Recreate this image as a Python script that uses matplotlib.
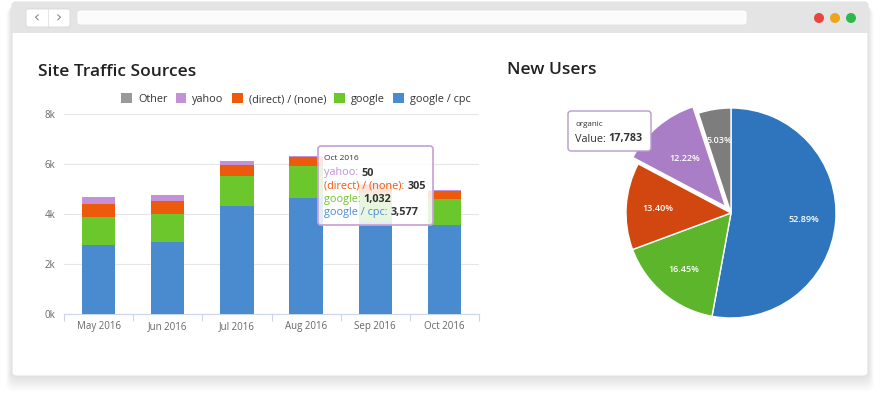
import matplotlib
matplotlib.use("Agg")
import matplotlib.pyplot as plt
from matplotlib.patches import FancyBboxPatch, Circle, Rectangle
import numpy as np

plt.rcParams['font.family'] = ['Open Sans', 'DejaVu Sans']

# ---------------- data ----------------
months = ['May 2016', 'Jun 2016', 'Jul 2016', 'Aug 2016', 'Sep 2016', 'Oct 2016']
google_cpc = [2770, 2900, 4340, 4630, 3680, 3577]
google = [1100, 1110, 1200, 1310, 1160, 1032]
direct_none = [540, 530, 430, 330, 320, 305]
yahoo = [290, 230, 170, 70, 60, 50]
other = [0, 0, 0, 0, 0, 0]
series_names = ['google / cpc', 'google', '(direct) / (none)', 'yahoo', 'Other']
y_ticks = [0, 2000, 4000, 6000, 8000]
y_tick_labels = ['0k', '2k', '4k', '6k', '8k']

tooltip_month = 'Oct 2016'

pie_shares = [52.89, 16.45, 13.40, 12.22, 5.03]
pie_tooltip_name = 'organic'
pie_tooltip_value = '17,783'

bar_colors = ['#4a8bd0', '#6cc72d', '#ee5a0c', '#c490d8', '#999999']
pie_colors = ['#2f75bd', '#5cb52b', '#d2460f', '#aa7ec6', '#7d7d7d']

# ---------------- figure ----------------
W, H = 880, 398
fig = plt.figure(figsize=(W / 100, H / 100), dpi=100)
fig.patch.set_facecolor('white')

bg = fig.add_axes([0, 0, 1, 1], zorder=0)
bg.set_xlim(0, W)
bg.set_ylim(H, 0)
bg.axis('off')

# soft shadow
for i in range(10):
    off = 14 - 1.4 * i
    bg.add_patch(FancyBboxPatch((12 - off * 0.4, 4 + off * 0.2), 856 + off * 0.8, 372 + off * 0.9,
                                boxstyle="round,pad=0,rounding_size=8",
                                fc='#000000', ec='none', alpha=0.012))
# window
bg.add_patch(FancyBboxPatch((12, 2), 856, 374, boxstyle="round,pad=0,rounding_size=4",
                            fc='white', ec='#e2e2e2', lw=0.8))
bg.add_patch(FancyBboxPatch((12, 2), 856, 31, boxstyle="round,pad=0,rounding_size=4",
                            fc='#e4e4e4', ec='none'))
bg.add_patch(Rectangle((12, 20), 856, 13, fc='#e4e4e4', ec='none'))
# nav buttons
bg.add_patch(FancyBboxPatch((26, 9), 44, 18, boxstyle="round,pad=0,rounding_size=2",
                            fc='white', ec='#d8d8d8', lw=0.6))
bg.plot([48, 48], [9, 27], color='#e0e0e0', lw=0.6)
bg.text(37, 18, '‹', ha='center', va='center', fontsize=11, color='#888888', family='DejaVu Sans')
bg.text(59, 18, '›', ha='center', va='center', fontsize=11, color='#888888', family='DejaVu Sans')
# address bar
bg.add_patch(FancyBboxPatch((77, 10), 670, 15, boxstyle="round,pad=0,rounding_size=3",
                            fc='#fbfbfb', ec='#e0e0e0', lw=0.5))
# window dots
for cx, c in zip([819, 835, 851], ['#e8473d', '#eea41c', '#2db94a']):
    bg.add_patch(Circle((cx, 18), 5, fc=c, ec='none'))

# titles
bg.text(38, 72, 'Site Traffic Sources', ha='left', va='center', fontsize=12.5,
        fontweight='semibold', color='#222222')
bg.text(507, 70, 'New Users', ha='left', va='center', fontsize=12.5,
        fontweight='semibold', color='#222222')

# ---------------- bar chart ----------------
axL, axR, axT, axB = 64, 479, 114, 314
ax = fig.add_axes([axL / W, (H - axB) / H, (axR - axL) / W, (axB - axT) / H], zorder=2)
ax.patch.set_alpha(0)
x = np.arange(len(months))
stack = [google_cpc, google, direct_none, yahoo, other]
bottom = np.zeros(len(months))
handles = []
for vals, name, col in zip(stack, series_names, bar_colors):
    h = ax.bar(x, vals, 0.48, bottom=bottom, color=col, label=name, zorder=3, lw=0)
    handles.append(h)
    bottom += np.array(vals)

ax.set_xlim(-0.5, len(months) - 0.5)
ax.set_ylim(0, 8000)
ax.set_yticks(y_ticks)
ax.set_yticklabels(y_tick_labels)
ax.set_xticks(x)
ax.set_xticklabels(months)
ax.set_xticks(np.arange(-0.5, len(months), 1.0), minor=True)
ax.tick_params(axis='x', which='major', length=0, pad=5, labelsize=7, labelcolor='#666666')
ax.tick_params(axis='x', which='minor', length=5, color='#ccd6eb', width=0.8)
ax.tick_params(axis='y', length=0, pad=6, labelsize=7, labelcolor='#666666')
ax.grid(axis='y', color='#e6e6e6', lw=0.8, zorder=0)
for s in ['top', 'right', 'left']:
    ax.spines[s].set_visible(False)
ax.spines['bottom'].set_color('#ccd6eb')
ax.spines['bottom'].set_linewidth(0.8)

leg = ax.legend(handles[::-1], series_names[::-1], ncol=5, loc='lower right',
                bbox_to_anchor=(0.98, 1.045), frameon=False, fontsize=7.8,
                handlelength=1.0, handleheight=1.0, handletextpad=0.55,
                columnspacing=0.75, borderaxespad=0, borderpad=0)
for t in leg.get_texts():
    t.set_color('#333333')

# ---------------- pie chart ----------------
pcx, pcy, R = 731, 213, 105
half = 120
pax = fig.add_axes([(pcx - half) / W, (H - pcy - half) / H, 2 * half / W, 2 * half / H], zorder=2)
explode = [0, 0, 0, 0.08, 0]
total = sum(pie_shares)
wedges, texts, autotexts = pax.pie(pie_shares, colors=pie_colors, startangle=90,
                                   counterclock=False, explode=explode,
                                   autopct=lambda p: f'{p * total / 100:.2f}%', pctdistance=0.7,
                                   wedgeprops=dict(edgecolor='white', linewidth=1.0),
                                   textprops=dict(color='white', fontsize=6.5, fontweight='semibold'))
for w, e, t in zip(wedges, explode, autotexts):
    if e:
        ang = np.deg2rad((w.theta1 + w.theta2) / 2)
        px, py = t.get_position()
        t.set_position((px - 1.2 * e * np.cos(ang), py - 1.2 * e * np.sin(ang)))
lim = half / R
pax.set_xlim(-lim, lim)
pax.set_ylim(-lim, lim)
pax.set_aspect('equal')
pax.axis('off')

# ---------------- overlays (tooltips) ----------------
ov = fig.add_axes([0, 0, 1, 1], zorder=10)
ov.set_xlim(0, W)
ov.set_ylim(H, 0)
ov.axis('off')
ov.patch.set_alpha(0)

# bar tooltip
ov.add_patch(FancyBboxPatch((318, 146), 115, 79, boxstyle="round,pad=0,rounding_size=3",
                            fc='white', ec='#c9a3da', lw=1.0, alpha=0.85))
ov.add_patch(FancyBboxPatch((318, 146), 115, 79, boxstyle="round,pad=0,rounding_size=3",
                            fc='none', ec='#c9a3da', lw=1.0))
ov.text(324, 159, tooltip_month, ha='left', va='center', fontsize=6, color='#333333')
i_oct = months.index(tooltip_month)
tip_rows = [('yahoo', yahoo[i_oct], bar_colors[3]),
            ('(direct) / (none)', direct_none[i_oct], bar_colors[2]),
            ('google', google[i_oct], bar_colors[1]),
            ('google / cpc', google_cpc[i_oct], bar_colors[0])]
for k, (nm, v, col) in enumerate(tip_rows):
    yy = 173 + k * 13.3
    lab = ov.text(324, yy, nm + ': ', ha='left', va='center', fontsize=7.8, color=col)
    ov.annotate(f'{v:,}', xy=(1, 0.5), xycoords=lab, ha='left', va='center',
                fontsize=7.8, fontweight='bold', color='#333333')

# pie tooltip
ov.add_patch(FancyBboxPatch((568, 111), 83, 40, boxstyle="round,pad=0,rounding_size=3",
                            fc='white', ec='#b79bc9', lw=1.0))
ov.text(575, 124, pie_tooltip_name, ha='left', va='center', fontsize=5.8, color='#333333')
vl = ov.text(575, 139, 'Value: ', ha='left', va='center', fontsize=7.8, color='#333333')
ov.annotate(pie_tooltip_value, xy=(1, 0.5), xycoords=vl, ha='left', va='center',
            fontsize=7.8, fontweight='bold', color='#333333')

fig.savefig('out.png', dpi=100, facecolor='white')
